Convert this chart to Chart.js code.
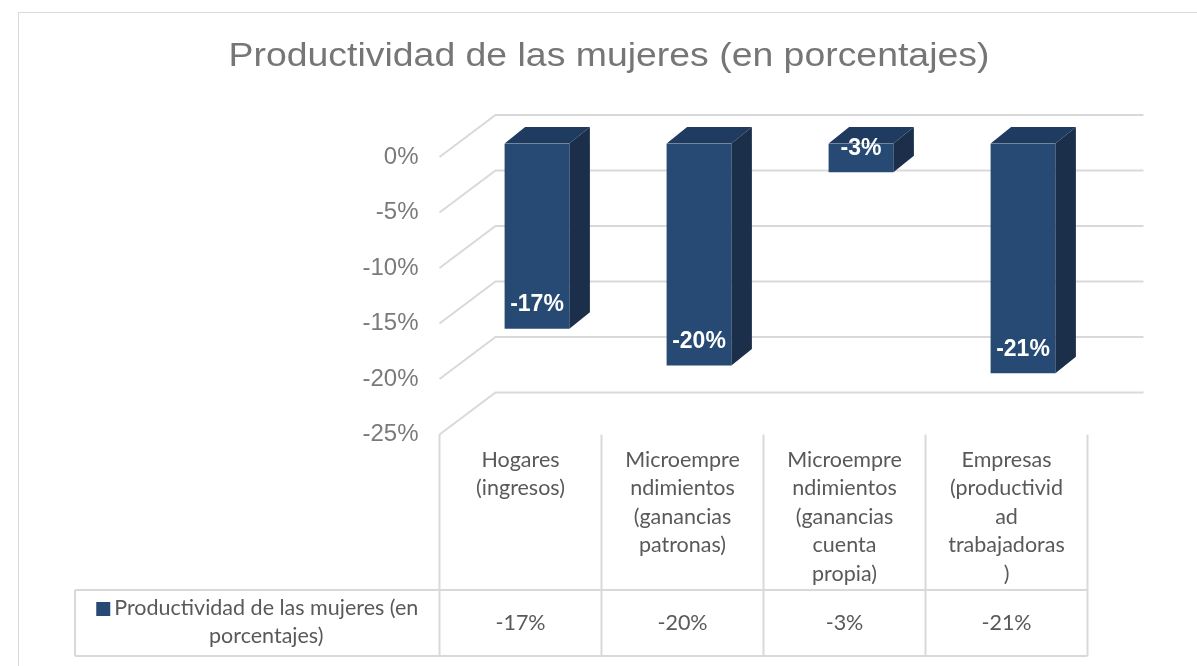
<!DOCTYPE html>
<html>
<head>
<meta charset="utf-8">
<script src="https://cdn.jsdelivr.net/npm/chart.js@4.4.1/dist/chart.umd.min.js"></script>
<style>
  html, body { margin:0; padding:0; background:#fff; }
  #wrap { width:1197px; height:666px; position:relative; }
</style>
</head>
<body>
<div id="wrap"><canvas id="chart" width="1197" height="666"></canvas></div>
<script>
  // datos
  const titulo = "Productividad de las mujeres (en porcentajes)";
  const categorias = [
    ["Hogares", "(ingresos)"],
    ["Microempre", "ndimientos", "(ganancias", "patronas)"],
    ["Microempre", "ndimientos", "(ganancias", "cuenta", "propia)"],
    ["Empresas", "(productivid", "ad", "trabajadoras", ")"]
  ];
  const valores = [-0.167, -0.200, -0.026, -0.207];
  const serieNombre = ["Productividad de las mujeres (en", "porcentajes)"];
  const ticksY = [0, -0.05, -0.10, -0.15, -0.20, -0.25];

  const AZUL = "#264a74", AZUL_TOP = "#1f3c60", AZUL_LADO = "#1b2e4a";
  const GRIS_GRID = "#d9d9d9", GRIS_TXT = "#595959";
  const pct = v => Math.round(v * 100) + "%";

  // profundidad 3D (relativa al plano de las barras)
  const FRONT = { dx:-16.5, dy:13.5 }, BACK = { dx:39.5, dy:-28.5 };
  const BAR_D = { dx:20.5, dy:-16.5 };

  function texto(ctx, t, x, y, font, color, align, stretch){
    ctx.save();
    ctx.font = font; ctx.fillStyle = color;
    ctx.textAlign = align || "center";
    ctx.translate(x, y); ctx.scale(stretch || 1, 1);
    ctx.fillText(t, 0, 0);
    ctx.restore();
  }

  const plot3d = {
    id: "plot3d",
    beforeDatasetsDraw(chart){
      const { ctx, chartArea:a, scales:{ y } } = chart;
      ctx.save();
      // marco exterior
      ctx.strokeStyle = GRIS_GRID; ctx.lineWidth = 1;
      ctx.strokeRect(18.5, 12.5, 1300, 800);
      // título
      ctx.textBaseline = "alphabetic";
      texto(ctx, titulo, 609, 66, "34px Arial, 'Liberation Sans'", "#767676", "center", 1.10);
      // rejilla de la pared del fondo + diagonales del lado
      ctx.strokeStyle = GRIS_GRID; ctx.lineWidth = 2;
      ticksY.forEach(t => {
        const py = y.getPixelForValue(t);
        ctx.beginPath();
        ctx.moveTo(a.left + FRONT.dx, py + FRONT.dy);
        ctx.lineTo(a.left + BACK.dx, py + BACK.dy);
        ctx.lineTo(a.right + BACK.dx, py + BACK.dy);
        ctx.stroke();
      });
      // etiquetas del eje Y (plano frontal)
      ctx.textBaseline = "middle";
      ticksY.forEach(t => texto(ctx, pct(t), a.left + FRONT.dx - 21, y.getPixelForValue(t) + FRONT.dy,
        "24px Arial, 'Liberation Sans'", "#7a7a7a", "right"));
      ctx.restore();
    },
    afterDatasetsDraw(chart){
      const { ctx } = chart;
      const meta = chart.getDatasetMeta(0);
      ctx.save();
      meta.data.forEach((bar, i) => {
        const l = bar.x - bar.width / 2, r = bar.x + bar.width / 2;
        const top = Math.min(bar.y, bar.base), bot = Math.max(bar.y, bar.base);
        // cara superior
        ctx.fillStyle = AZUL_TOP;
        ctx.beginPath();
        ctx.moveTo(l, top); ctx.lineTo(r, top);
        ctx.lineTo(r + BAR_D.dx, top + BAR_D.dy); ctx.lineTo(l + BAR_D.dx, top + BAR_D.dy);
        ctx.closePath(); ctx.fill();
        // cara lateral
        ctx.fillStyle = AZUL_LADO;
        ctx.beginPath();
        ctx.moveTo(r, top); ctx.lineTo(r + BAR_D.dx, top + BAR_D.dy);
        ctx.lineTo(r + BAR_D.dx, bot + BAR_D.dy); ctx.lineTo(r, bot);
        ctx.closePath(); ctx.fill();
        // etiqueta de datos
        ctx.textBaseline = "middle";
        const ly = Math.max(bot - 24, top + 5);
        texto(ctx, pct(valores[i]), bar.x, ly, "bold 23px Arial, 'Liberation Sans'", "#fff", "center");
      });
      ctx.restore();
    },
    afterDraw(chart){
      const { ctx, scales:{ x, y } } = chart;
      ctx.save();
      const y0 = y.getPixelForValue(-0.25) + FRONT.dy;  // suelo frontal
      const rowTop = 590, rowBot = 656, leftCell = 75;
      const bordes = [];
      for(let i = 0; i <= categorias.length; i++){
        bordes.push(x.getPixelForValue(i - 0.5) + FRONT.dx);
      }
      ctx.strokeStyle = GRIS_GRID; ctx.lineWidth = 2;
      bordes.forEach(bx => {
        ctx.beginPath(); ctx.moveTo(bx, y0); ctx.lineTo(bx, rowBot); ctx.stroke();
      });
      const fin = bordes[bordes.length-1];
      ctx.beginPath();
      ctx.moveTo(leftCell, rowTop); ctx.lineTo(fin, rowTop);
      ctx.moveTo(leftCell, rowBot); ctx.lineTo(fin, rowBot);
      ctx.moveTo(leftCell, rowTop); ctx.lineTo(leftCell, rowBot);
      ctx.stroke();

      // categorías y valores de la tabla
      const fuente = "21.5px Lato";
      ctx.textBaseline = "middle";
      categorias.forEach((lines, i) => {
        const cx = (bordes[i] + bordes[i+1]) / 2;
        lines.forEach((t, k) => texto(ctx, t, cx, 460 + k * 28.4, fuente, GRIS_TXT, "center"));
        texto(ctx, pct(valores[i]), cx, 623, fuente, GRIS_TXT, "center");
      });
      // leyenda de la tabla
      const cxL = (leftCell + bordes[0]) / 2;
      ctx.font = fuente;
      const w1 = ctx.measureText(serieNombre[0]).width;
      const sx = cxL - (w1 + 18) / 2;
      ctx.fillStyle = AZUL;
      ctx.fillRect(sx, 602, 14, 14);
      texto(ctx, serieNombre[0], sx + 18, 608, fuente, GRIS_TXT, "left");
      texto(ctx, serieNombre[1], sx + 18 + w1 / 2, 636, fuente, GRIS_TXT, "center");
      ctx.restore();
    }
  };

  new Chart(document.getElementById("chart"), {
    type: "bar",
    data: {
      labels: categorias.map(c => c.join(" ")),
      datasets: [{ label: serieNombre.join(" "), data: valores, backgroundColor: AZUL,
        barPercentage: 0.4, categoryPercentage: 1 }]
    },
    options: {
      responsive: false, animation: false,
      layout: { padding: { left: 456, right: 93, top: 143.5, bottom: 245 } },
      plugins: {
        legend: { display: false },
        tooltip: { enabled: false },
        title: { display: false }
      },
      scales: {
        x: { display: false },
        y: { display: false, min: -0.25, max: 0 }
      }
    },
    plugins: [plot3d]
  });
</script>
</body>
</html>
